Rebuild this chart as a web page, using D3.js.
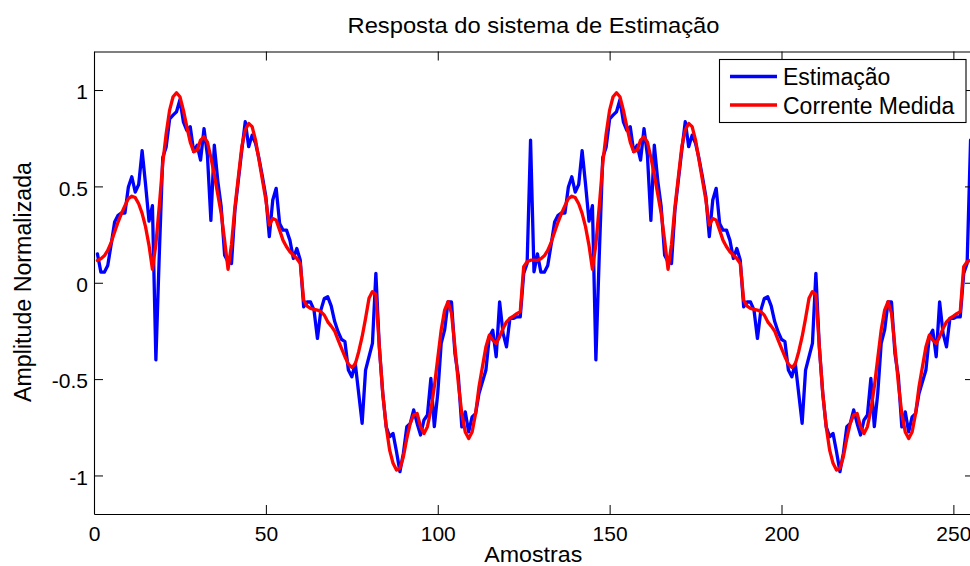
<!DOCTYPE html>
<html>
<head>
<meta charset="utf-8">
<script src="https://cdn.jsdelivr.net/npm/d3@7"></script>
<style>
  html, body { margin: 0; padding: 0; background: #fff; }
  svg { display: block; font-family: Arial, "Liberation Sans", Helvetica, sans-serif; }
</style>
</head>
<body>
<svg id="chart" width="970" height="566"></svg>
<script>
// ---------- DATA ----------
const title = "Resposta do sistema de Estimação";
const xLabel = "Amostras";
const yLabel = "Amplitude Normalizada";
const seriesNames = ["Estimação", "Corrente Medida"];
const xTicks = [0, 50, 100, 150, 200, 250];
const yTicks = [-1, -0.5, 0, 0.5, 1];
const yTickLabels = ["-1", "-0.5", "0", "0.5", "1"];

// Estimação, samples 1..128
const estimacaoA = [
 0.15, 0.055, 0.055, 0.09, 0.2, 0.315, 0.35, 0.362, 0.362, 0.497,
 0.55, 0.47, 0.51, 0.685, 0.51, 0.32, 0.40, -0.40, 0.15, 0.65,
 0.705, 0.85, 0.87, 0.887, 0.95, 0.835, 0.79, 0.81, 0.68, 0.714,
 0.636, 0.80, 0.66, 0.324, 0.714, 0.53, 0.394, 0.143, 0.109, 0.10,
 0.377, 0.533, 0.688, 0.836, 0.706, 0.766, 0.723, 0.645, 0.55, 0.446,
 0.239, 0.429, 0.49, 0.308, 0.273, 0.273, 0.22, 0.126, 0.178, 0.118,
 -0.125, -0.099, -0.1, -0.142, -0.289, -0.142, -0.082, -0.073, -0.12, -0.2,
 -0.254, -0.294, -0.306, -0.453, -0.488, -0.418, -0.574, -0.73, -0.453, -0.384,
 -0.315, 0.049, -0.332, -0.574, -0.747, -0.799, -0.782, -0.877, -0.98, -0.885,
 -0.747, -0.73, -0.66, -0.73, -0.79, -0.712, -0.686, -0.496, -0.747, -0.574,
 -0.315, -0.245, -0.1, -0.1, -0.367, -0.488, -0.748, -0.67, -0.774, -0.696,
 -0.679, -0.575, -0.514, -0.454, -0.28, -0.246, -0.384, -0.099, -0.263, -0.333,
 -0.185, -0.185, -0.177, -0.177, 0.048, 0.1, 0.74, 0.057
];
// Estimação, samples 129..256
const estimacaoB = [
 0.15, 0.055, 0.055, 0.09, 0.2, 0.315, 0.35, 0.362, 0.362, 0.497,
 0.55, 0.47, 0.51, 0.685, 0.51, 0.32, 0.40, -0.40, 0.15, 0.65,
 0.705, 0.85, 0.87, 0.887, 0.95, 0.835, 0.79, 0.81, 0.68, 0.714,
 0.636, 0.80, 0.66, 0.324, 0.714, 0.53, 0.394, 0.143, 0.109, 0.10,
 0.377, 0.533, 0.688, 0.836, 0.706, 0.766, 0.723, 0.645, 0.55, 0.446,
 0.239, 0.429, 0.49, 0.308, 0.273, 0.273, 0.22, 0.126, 0.178, 0.118,
 -0.125, -0.099, -0.1, -0.142, -0.289, -0.142, -0.082, -0.073, -0.12, -0.2,
 -0.254, -0.294, -0.306, -0.453, -0.488, -0.418, -0.574, -0.73, -0.453, -0.384,
 -0.315, 0.049, -0.332, -0.574, -0.747, -0.799, -0.782, -0.877, -0.98, -0.885,
 -0.747, -0.73, -0.66, -0.73, -0.79, -0.712, -0.686, -0.496, -0.747, -0.574,
 -0.315, -0.245, -0.1, -0.1, -0.367, -0.488, -0.748, -0.67, -0.774, -0.696,
 -0.679, -0.575, -0.514, -0.454, -0.28, -0.246, -0.384, -0.099, -0.263, -0.333,
 -0.185, -0.185, -0.177, -0.177, 0.048, 0.1, 0.74, 0.057
];
// Corrente Medida, samples 1..128
const correnteA = [
 0.116, 0.125, 0.14, 0.168, 0.21, 0.263, 0.315, 0.36, 0.40, 0.437,
 0.449, 0.442, 0.41, 0.36, 0.29, 0.194, 0.07, 0.2, 0.40, 0.62,
 0.775, 0.896, 0.965, 0.986, 0.965, 0.896, 0.81, 0.73, 0.68, 0.688,
 0.74, 0.757, 0.73, 0.65, 0.56, 0.46, 0.36, 0.22, 0.07, 0.2,
 0.394, 0.55, 0.706, 0.792, 0.827, 0.81, 0.74, 0.637, 0.533, 0.429,
 0.299, 0.334, 0.325, 0.273, 0.22, 0.187, 0.161, 0.143, 0.126, 0.1,
 -0.09, -0.121, -0.133, -0.138, -0.142, -0.15, -0.168, -0.203, -0.225, -0.25,
 -0.297, -0.34, -0.384, -0.422, -0.439, -0.422, -0.358, -0.28, -0.185, -0.081,
 -0.046, -0.06, -0.332, -0.574, -0.747, -0.868, -0.937, -0.972, -0.963, -0.903,
 -0.808, -0.73, -0.686, -0.678, -0.747, -0.782, -0.747, -0.66, -0.539, -0.392,
 -0.245, -0.142, -0.098, -0.16, -0.333, -0.523, -0.679, -0.774, -0.808, -0.774,
 -0.679, -0.54, -0.436, -0.333, -0.272, -0.298, -0.315, -0.28, -0.237, -0.203,
 -0.185, -0.173, -0.16, -0.15, 0.083, 0.109, 0.117, 0.117
];
// Corrente Medida, samples 129..256
const correnteB = [
 0.116, 0.125, 0.14, 0.168, 0.21, 0.263, 0.315, 0.36, 0.40, 0.437,
 0.449, 0.442, 0.41, 0.36, 0.29, 0.194, 0.07, 0.2, 0.40, 0.62,
 0.775, 0.896, 0.965, 0.986, 0.965, 0.896, 0.81, 0.73, 0.68, 0.688,
 0.74, 0.757, 0.73, 0.65, 0.56, 0.46, 0.36, 0.22, 0.07, 0.2,
 0.394, 0.55, 0.706, 0.792, 0.827, 0.81, 0.74, 0.637, 0.533, 0.429,
 0.299, 0.334, 0.325, 0.273, 0.22, 0.187, 0.161, 0.143, 0.126, 0.1,
 -0.09, -0.121, -0.133, -0.138, -0.142, -0.15, -0.168, -0.203, -0.225, -0.25,
 -0.297, -0.34, -0.384, -0.422, -0.439, -0.422, -0.358, -0.28, -0.185, -0.081,
 -0.046, -0.06, -0.332, -0.574, -0.747, -0.868, -0.937, -0.972, -0.963, -0.903,
 -0.808, -0.73, -0.686, -0.678, -0.747, -0.782, -0.747, -0.66, -0.539, -0.392,
 -0.245, -0.142, -0.098, -0.16, -0.333, -0.523, -0.679, -0.774, -0.808, -0.774,
 -0.679, -0.54, -0.436, -0.333, -0.272, -0.298, -0.315, -0.28, -0.237, -0.203,
 -0.185, -0.173, -0.16, -0.15, 0.083, 0.109, 0.117, 0.117
];

const estimacao = estimacaoA.concat(estimacaoB);
const corrente = correnteA.concat(correnteB);

// ---------- LAYOUT ----------
const svg = d3.select("#chart");
const plot = { left: 94, right: 974, top: 51.5, bottom: 514 };

const x = d3.scaleLinear().domain([0, 256]).range([plot.left, plot.right]);
const y = d3.scaleLinear().domain([-1.2, 1.2]).range([plot.bottom, plot.top]);

svg.append("defs").append("clipPath").attr("id", "clip")
  .append("rect")
  .attr("x", plot.left).attr("y", plot.top)
  .attr("width", plot.right - plot.left).attr("height", plot.bottom - plot.top);

// ---------- LINES ----------
const line = d3.line().x((d, i) => x(i + 1)).y(d => y(d));

const g = svg.append("g").attr("clip-path", "url(#clip)");
g.append("path").datum(estimacao)
  .attr("d", line).attr("fill", "none")
  .attr("stroke", "#0000ff").attr("stroke-width", 3.3)
  .attr("stroke-linejoin", "round").attr("stroke-linecap", "round");
g.append("path").datum(corrente)
  .attr("d", line).attr("fill", "none")
  .attr("stroke", "#ff0000").attr("stroke-width", 3.3)
  .attr("stroke-linejoin", "round").attr("stroke-linecap", "round");

// ---------- AXES (MATLAB box style) ----------
const tickLen = 9;
const fmtY = d => yTickLabels[yTicks.indexOf(d)];

const xAxisB = d3.axisBottom(x).tickValues(xTicks).tickSizeInner(-tickLen).tickSizeOuter(0).tickPadding(14);
const xAxisT = d3.axisTop(x).tickValues(xTicks).tickSizeInner(-tickLen).tickSizeOuter(0).tickFormat("");
const yAxisL = d3.axisLeft(y).tickValues(yTicks).tickSizeInner(-tickLen).tickSizeOuter(0).tickFormat(fmtY).tickPadding(15);
const yAxisR = d3.axisRight(y).tickValues(yTicks).tickSizeInner(-tickLen).tickSizeOuter(0).tickFormat("");

function styleAxis(sel) {
  sel.select(".domain").attr("stroke", "#000").attr("stroke-width", 1.1);
  sel.selectAll(".tick line").attr("stroke", "#000").attr("stroke-width", 1);
  sel.selectAll(".tick text")
    .attr("fill", "#000")
    .style("font-family", "Arial, 'Liberation Sans', Helvetica, sans-serif")
    .style("font-size", "21px");
}

const gxb = svg.append("g").attr("transform", `translate(0,${plot.bottom})`).call(xAxisB).call(styleAxis);
gxb.selectAll(".tick text").attr("dy", null).attr("y", null)
  .attr("transform", "translate(0,27)");
const gxt = svg.append("g").attr("transform", `translate(0,${plot.top})`).call(xAxisT).call(styleAxis);
const gyl = svg.append("g").attr("transform", `translate(${plot.left},0)`).call(yAxisL).call(styleAxis);
gyl.selectAll(".tick text").attr("dy", "0.42em").attr("x", -6);
const gyr = svg.append("g").attr("transform", `translate(${plot.right},0)`).call(yAxisR).call(styleAxis);

// ---------- TEXT ----------
svg.append("text")
  .attr("x", 533.5).attr("y", 33)
  .attr("text-anchor", "middle")
  .attr("textLength", 372).attr("lengthAdjust", "spacingAndGlyphs")
  .style("font-size", "21.5px").attr("fill", "#000")
  .text(title);

svg.append("text")
  .attr("x", 533.3).attr("y", 561.5)
  .attr("text-anchor", "middle")
  .attr("textLength", 98).attr("lengthAdjust", "spacingAndGlyphs")
  .style("font-size", "21.5px").attr("fill", "#000")
  .text(xLabel);

svg.append("text")
  .attr("transform", "translate(30.5,282) rotate(-90)")
  .attr("text-anchor", "middle")
  .attr("textLength", 240).attr("lengthAdjust", "spacingAndGlyphs")
  .style("font-size", "23px").attr("fill", "#000")
  .text(yLabel);

// ---------- LEGEND ----------
const legend = svg.append("g");
legend.append("rect")
  .attr("x", 719.5).attr("y", 59.5).attr("width", 246.5).attr("height", 63)
  .attr("fill", "#fff").attr("stroke", "#000").attr("stroke-width", 1.1);
const legendColors = ["#0000ff", "#ff0000"];
const legendY = [76.5, 105];
seriesNames.forEach((name, i) => {
  legend.append("line")
    .attr("x1", 730).attr("x2", 777)
    .attr("y1", legendY[i]).attr("y2", legendY[i])
    .attr("stroke", legendColors[i]).attr("stroke-width", 3.3);
  legend.append("text")
    .attr("x", 783).attr("y", legendY[i] + 8.5)
    .style("font-size", "23px").attr("fill", "#000")
    .text(name);
});
</script>
</body>
</html>
